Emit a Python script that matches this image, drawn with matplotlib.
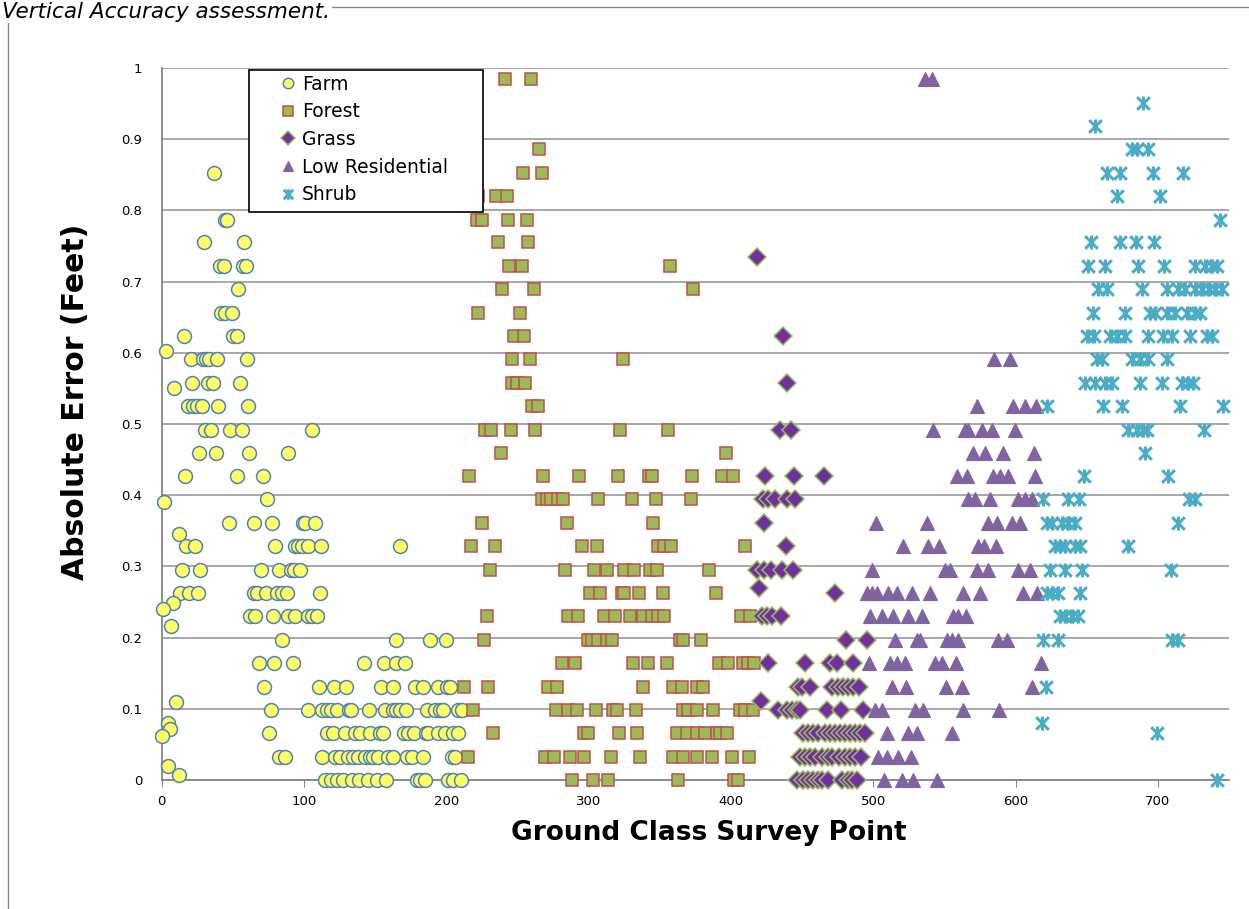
"""Vertical accuracy scatter: absolute error per ground class survey point."""

import matplotlib
matplotlib.use("Agg")
import matplotlib.pyplot as plt
import numpy as np
from matplotlib.path import Path
from matplotlib.patches import Rectangle

# absolute error (ft) -> survey point numbers at that error
farm = {
    0.853: [37],
    0.787: [44.5, 46],
    0.755: [30, 58],
    0.722: [41, 44, 57, 59],
    0.689: [54],
    0.656: [42, 44.5, 49.7],
    0.623: [15.7, 50.4, 52.8],
    0.602: [3],
    0.591: [20.4, 28.9, 31, 33.3, 38.7, 59.8],
    0.558: [21, 32.8, 36.3, 55],
    0.551: [8.5],
    0.525: [18.8, 22.3, 24.7, 28.2, 39.4, 61],
    0.492: [30.5, 34.7, 48, 56.3, 105.9],
    0.459: [26, 38, 61.6, 89],
    0.427: [16.7, 52.8, 71.5],
    0.394: [73.8],
    0.391: [1.7],
    0.361: [47, 65, 77.5, 99.6, 101, 108],
    0.345: [12.4],
    0.328: [17, 23.7, 80, 94, 96, 98.4, 102.7, 112, 167.5],
    0.295: [14.6, 27, 69.6, 82.3, 90.7, 93, 97.3],
    0.262: [13, 19.3, 25.6, 65, 66.8, 73.4, 81.3, 84.4, 88, 111.3],
    0.248: [7.8],
    0.240: [0.8],
    0.230: [62, 65.7, 78.5, 89, 93.8, 103, 105.5, 109],
    0.217: [6.8],
    0.197: [84.4, 164.7, 188.6, 199.6],
    0.164: [68.7, 79, 92.6, 142, 156.5, 165, 171],
    0.131: [72, 110.6, 121.4, 129.6, 154, 162.4, 178, 184, 194, 200.3, 202.7],
    0.109: [9.9],
    0.098: [76.7, 103, 113, 116, 118.8, 123.5, 131.7, 133, 145.7, 157, 162.8,
            165, 167.5, 171.5, 186.7, 192, 195.6, 198, 208.5, 210.9],
    0.080: [4.7],
    0.072: [5.9],
    0.066: [75.7, 116, 120.7, 128.9, 136, 139.4, 146.5, 153.5, 155.8, 170,
            173, 177, 186, 187.4, 194.4, 199, 205, 208.5],
    0.062: [0],
    0.033: [82.7, 86.7, 113, 121.9, 125.4, 131.2, 134.7, 138.2, 143, 146.5,
            148.8, 152.3, 159.3, 162.8, 172.2, 175.8, 183.5, 203.9, 206.2],
    0.020: [4.3],
    0.007: [12.2],
    0.000: [114.8, 118.8, 123, 127.3, 134, 139, 144.8, 151.6, 158, 179.3,
            181.6, 185, 201.5, 205, 210.4],
}

forest = {
    0.984: [241.3, 259.6],
    0.886: [265.4],
    0.853: [253.8, 267.5],
    0.820: [222, 235, 242.5],
    0.787: [221.4, 225, 243.2, 256.6],
    0.755: [236.6, 257.7],
    0.722: [244.1, 253, 357.3],
    0.689: [239.4, 261.7, 373.7],
    0.656: [222.1, 252.1],
    0.623: [247.9, 254.9],
    0.591: [246, 258.9, 324.5],
    0.558: [246.5, 249.5, 255.4],
    0.525: [260.5, 264.3],
    0.492: [227.3, 231.5, 245.3, 262.4, 322.1, 356],
    0.459: [238.5, 396.6],
    0.427: [216.2, 268.2, 293.3, 320.5, 342.5, 344.4, 372.5, 393.6, 401.3],
    0.394: [267.1, 270.6, 273.6, 278.8, 282.3, 306.9, 330.4, 347.4, 371.8],
    0.361: [225, 284.7, 345.5],
    0.328: [217.4, 234.3, 295.2, 306, 349, 353.3, 358, 410],
    0.295: [230.8, 283.5, 304.1, 312.8, 325.2, 332.2, 343.2, 348, 384.9],
    0.262: [301, 308, 323.3, 325.2, 335.7, 352.6, 389.6],
    0.230: [228.9, 285.8, 292.4, 310.9, 318.6, 329.2, 338.5, 344.8, 349,
            353.3, 407.2, 413.5],
    0.197: [226.8, 299.9, 302.2, 306.9, 312.8, 316.3, 364.3, 366.6, 379],
    0.164: [281.2, 290.5, 331.1, 341.6, 355, 391.7, 398.2, 408.8, 412.3, 416.5],
    0.131: [212.7, 229.6, 271.7, 277.6, 338.5, 359.6, 365.5, 376, 380.7],
    0.098: [219, 276.9, 285.8, 291.7, 305, 317.4, 319.8, 333.2, 366.6, 370.1,
            376, 387.7, 406.5, 410, 415.8],
    0.066: [232.7, 297.1, 299.4, 321.4, 334.1, 362, 369, 376, 381.9, 390,
            392.4, 397.1],
    0.033: [215.1, 269.4, 276, 287, 297, 315.6, 336.2, 359.6, 366.6, 376,
            386.6, 400.6, 412.8],
    0.000: [288.6, 303, 313.5, 362.7, 402.5, 404.8],
}

grass = {
    0.735: [418.4],
    0.623: [436.5],
    0.558: [439.7],
    0.492: [434.6, 442.3],
    0.427: [424, 444.4, 465.7],
    0.394: [422.8, 426.3, 431, 439.3, 445.1],
    0.361: [423.3],
    0.328: [438.8],
    0.295: [418.2, 423.5, 428.5, 435.8, 443.5],
    0.269: [420],
    0.262: [473.2],
    0.230: [421.7, 425.2, 428.7, 435.3],
    0.197: [481, 495.5],
    0.164: [426.4, 452.1, 469.7, 474.4, 486],
    0.131: [447.4, 449.8, 455.6, 470.9, 475.5, 479, 482.6, 486, 490.3],
    0.111: [421.2],
    0.098: [433.4, 439.3, 442.8, 446.3, 448.6, 467.4, 477.2, 493.1],
    0.066: [450.9, 454.5, 458, 461.1, 466.2, 469.7, 473.2, 476.7, 480.3,
            483.8, 487.3, 490.8, 494.3],
    0.033: [448.6, 452.1, 455.6, 459.1, 463.9, 468.1, 471.3, 476, 480.3,
            483.8, 487.3, 491.5],
    0.000: [446.3, 450.9, 454.5, 458, 461.1, 463.9, 468.5, 477.9, 482.6,
            484.9, 488.5],
}

low_residential = {
    0.984: [536.4, 541.6],
    0.591: [585.2, 596.2],
    0.525: [572.8, 598.5, 606.8, 614.3],
    0.492: [542.3, 564.6, 566.9, 576.3, 583.3, 599.7],
    0.459: [570, 578.6, 591.5, 613.1],
    0.427: [558.7, 566, 584.5, 589.2, 594.6, 613.8],
    0.394: [566.9, 571.6, 582.2, 602, 606.7, 611.4],
    0.361: [502, 538.1, 581, 587.3, 597.4, 603.2],
    0.328: [521.2, 538.8, 546.5, 573.9, 578.1, 586.2],
    0.295: [499, 550.5, 554, 572.8, 580.3, 602, 610.3],
    0.262: [495.5, 499, 503, 510.7, 516.6, 527.1, 540, 563, 575.1, 605.5, 614.9],
    0.230: [497.8, 506.5, 514.2, 524.7, 534.2, 556.4, 559.9, 565],
    0.197: [515.4, 530.6, 533, 551.7, 555.2, 559.9, 588, 593.9],
    0.164: [497.1, 511.9, 516.6, 522.4, 543.5, 548.2, 558.2, 618],
    0.131: [513, 523.1, 551, 562.3, 611.4],
    0.098: [501.3, 506, 529.4, 535.3, 563.4, 588.7],
    0.066: [509.6, 524.7, 530.6, 555.2],
    0.033: [503.7, 509.6, 517.7, 526.6],
    0.000: [507.9, 520.5, 528.2, 545.1],
}

shrub = {
    0.951: [689.9],
    0.919: [655.9],
    0.886: [681.7, 685.2, 693.4],
    0.853: [664.2, 673.5, 696.9, 718],
    0.820: [671.6, 701.6],
    0.787: [743.8],
    0.755: [653.1, 673.5, 684.5, 697.6],
    0.722: [651.2, 662.9, 685.9, 704.6, 726.2, 733.2, 738, 741.5],
    0.689: [658.2, 664.2, 688.8, 706.3, 714.5, 719.2, 726.2, 730.9, 735.6,
            740.3, 745],
    0.656: [654.3, 677, 694.6, 698.1, 706.3, 712.2, 720.4, 726.2, 729.7],
    0.623: [650.1, 654.8, 666.5, 671.2, 677, 693.4, 703.9, 709.8, 722.7,
            734.4, 738],
    0.591: [657.1, 660.6, 681.7, 687.5, 692.9, 706.3],
    0.558: [648.9, 655.9, 662.9, 667.7, 687.5, 702.8, 716.8, 721.5, 725],
    0.525: [622, 661.8, 675.1, 715.7, 746.1],
    0.492: [679.3, 685.2, 689.9, 692.3, 732.7],
    0.459: [691.1],
    0.427: [648.4, 707],
    0.394: [619.6, 636.7, 644.9, 722, 726.2],
    0.361: [622, 625.9, 632.5, 637.2, 641.9, 714.5],
    0.328: [627.4, 631.4, 634.9, 641.9, 645.5, 679.3],
    0.295: [624.3, 634.9, 647, 709.3],
    0.262: [622, 625.9, 630.1, 645.5],
    0.230: [631.4, 634.9, 639.6, 644.2],
    0.197: [619.6, 630.1, 709.8, 714.5],
    0.131: [621.5],
    0.080: [618.5],
    0.066: [699.3],
    0.000: [741.5],
}

series_names = ["Farm", "Forest", "Grass", "Low Residential", "Shrub"]
y_ticks = [0, 0.1, 0.2, 0.3, 0.4, 0.5, 0.6, 0.7, 0.8, 0.9, 1]
y_tick_labels = ["0", "0.1", "0.2", "0.3", "0.4", "0.5", "0.6", "0.7", "0.8", "0.9", "1"]
x_ticks = [0, 100, 200, 300, 400, 500, 600, 700]


def to_xy(rows):
    xs, ys = [], []
    for err, points in rows.items():
        xs.extend(points)
        ys.extend([err] * len(points))
    return np.array(xs), np.array(ys)


# Excel-style "star": an X with a vertical bar through it
star = Path(
    [(-1, -1), (1, 1), (-1, 1), (1, -1), (0, -1.1), (0, 1.1)],
    [Path.MOVETO, Path.LINETO, Path.MOVETO, Path.LINETO, Path.MOVETO, Path.LINETO],
)

styles = [
    dict(marker="o", ms=10, mfc="#FFFF66", mec="#4F81BD", mew=1.1),
    dict(marker="s", ms=9, mfc="#9BBB59", mec="#C0504D", mew=1.1),
    dict(marker="D", ms=9.5, mfc="#7030A0", mec="#9BBB59", mew=1.1),
    dict(marker="^", ms=10.5, mfc="#8064A2", mec="#8064A2", mew=0.8),
    dict(marker=star, ms=10, mfc="none", mec="#4BACC6", mew=2.2),
]

fig = plt.figure(figsize=(12.49, 9.09), dpi=100)
ax = fig.add_axes([0.1294, 0.1419, 0.8546, 0.7833])

for name, rows, style in zip(series_names,
                             [farm, forest, grass, low_residential, shrub],
                             styles):
    xs, ys = to_xy(rows)
    ax.plot(xs, ys, linestyle="none", label=name, clip_on=False, zorder=3, **style)

ax.set_xlim(0, 750)
ax.set_ylim(0, 1)
ax.set_xticks(x_ticks)
ax.set_yticks(y_ticks)
ax.set_yticklabels(y_tick_labels)
ax.tick_params(axis="both", labelsize=9.5, direction="out", length=5,
               color="#868686", pad=6)
ax.tick_params(axis="y", length=0, pad=14)

ax.grid(axis="y", color="#A0A0A0", linewidth=1.3)
ax.set_axisbelow(True)
for side in ("top", "right"):
    ax.spines[side].set_visible(False)
for side in ("left", "bottom"):
    ax.spines[side].set_color("#868686")
    ax.spines[side].set_linewidth(1.3)

ax.set_xlabel("Ground Class Survey Point", fontsize=19, fontweight="bold")
ax.xaxis.set_label_coords(0.513, -0.056)
ax.set_ylabel("Absolute Error (Feet)", fontsize=21.5, fontweight="bold")
ax.yaxis.set_label_coords(-0.081, 0.531)
ax.yaxis.label.set_va("center")

# legend box is drawn separately so it can be wider than its entries
ax.add_patch(Rectangle((0.0819, 0.7978), 0.2192, 0.1994, transform=ax.transAxes,
                       facecolor="white", edgecolor="black", linewidth=1.2,
                       zorder=9, clip_on=False))
legend = ax.legend(loc="upper left", bbox_to_anchor=(0.1115, 0.9905),
                   borderaxespad=0, borderpad=0, frameon=False,
                   fontsize=13.5, markerscale=0.75, handlelength=0.8,
                   handletextpad=0.35, labelspacing=0.46)
legend.set_zorder(10)

# outer chart frame and the caption above it
fig.patches.append(Rectangle((8 / 1249, -0.1), 1.2, 1.1 - 7 / 909,
                             transform=fig.transFigure, fill=False,
                             edgecolor="#888888", linewidth=1.0))
fig.text(0.002, 1 - 18 / 909, "Vertical Accuracy assessment.", fontsize=15.5,
         style="italic", ha="left", va="baseline", zorder=5,
         bbox=dict(facecolor="white", edgecolor="none", pad=1))

fig.savefig("out.png", dpi=100)
